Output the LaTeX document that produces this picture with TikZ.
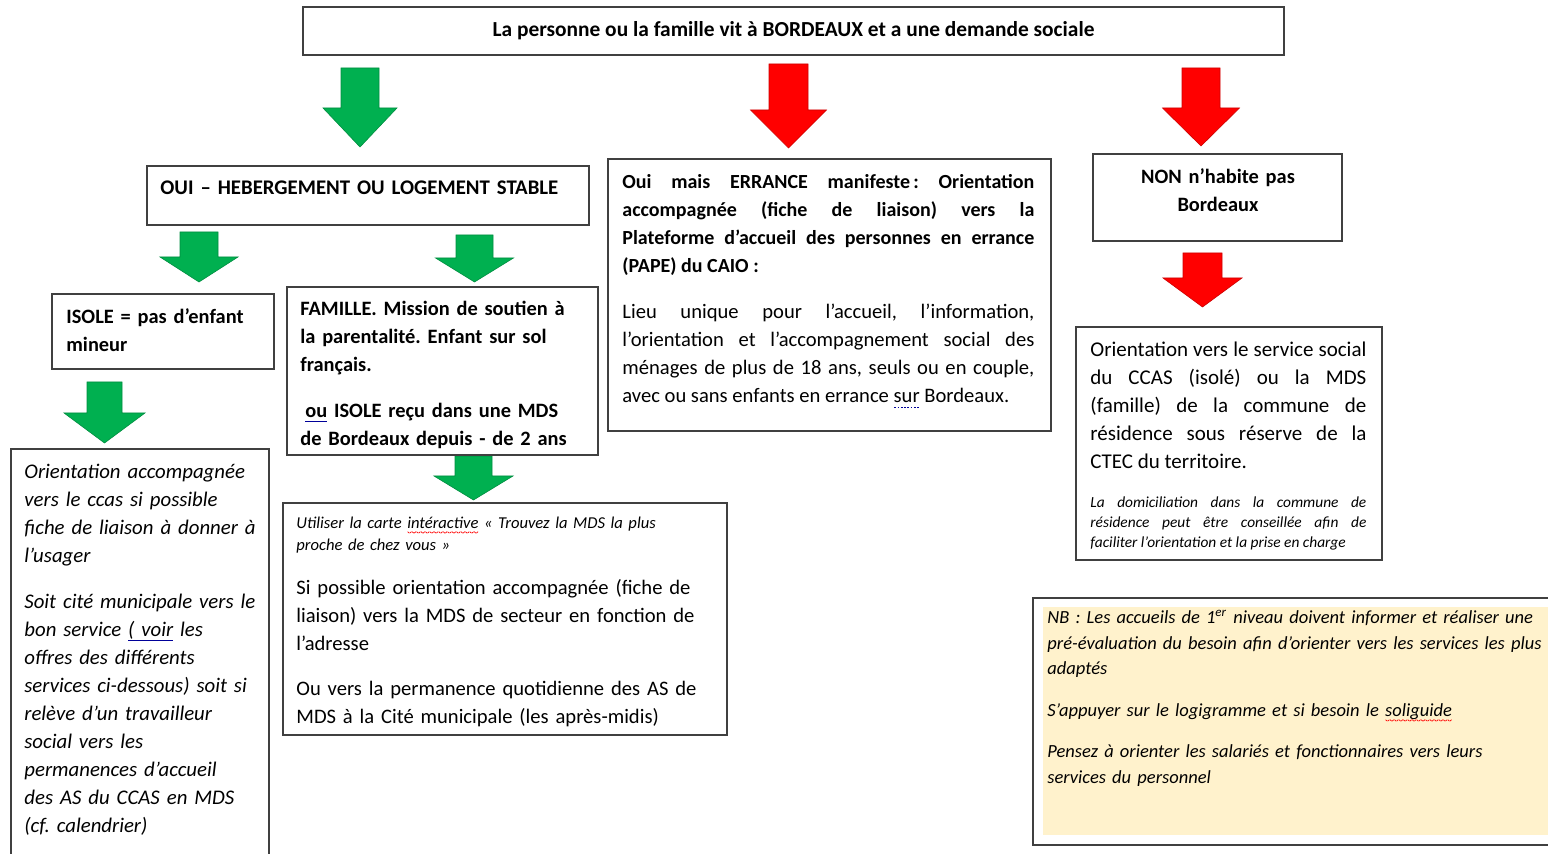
\documentclass[tikz,border=0pt]{standalone}
\usepackage{fontspec}
\setmainfont{Carlito}
\usetikzlibrary{fit}
\frenchspacing

\definecolor{okgreen}{HTML}{00B050}
\definecolor{nbyellow}{HTML}{FFF2CC}

\newsavebox\ulbox
\newcommand{\fs}[2]{\fontsize{#1}{#2}\selectfont}
\newcommand{\zigzag}{\hbox{\raisebox{0.7pt}{\rotatebox{-40}{\rule{1.1pt}{0.35pt}}}\rotatebox{40}{\rule{1.1pt}{0.35pt}}}}
\newcommand{\blueul}[1]{\sbox\ulbox{#1}\rlap{\textcolor{blue!60!black}{\rule[-0.45ex]{\wd\ulbox}{0.5pt}}}\usebox\ulbox}
\newcommand{\redwave}[1]{\sbox\ulbox{#1}\rlap{\textcolor{red}{\raisebox{-2.2pt}{\hbox to \wd\ulbox{\xleaders\zigzag\hfill}}}}\usebox\ulbox}
\newcommand{\dotul}[1]{\sbox\ulbox{#1}\rlap{\textcolor{blue!60!black}{\raisebox{-0.45ex}{\hbox to \wd\ulbox{\xleaders\hbox to 1.6pt{\hss\rule{0.8pt}{0.4pt}\hss}\hfill}}}}\usebox\ulbox}

\begin{document}
\begin{tikzpicture}[x=0.5pt, y=-0.5pt,
		box/.style={draw=black!75, line width=0.75pt, inner sep=0pt},
		txt/.style={anchor=base west, inner sep=0pt, align=left}]
	\useasboundingbox (0,0) rectangle (1548,854);
	
	\foreach \xc/\sw/\hw/\yt/\yb/\yp/\col in {360/19/37/68/108/147/okgreen, 788.5/19.5/38/64/110/148/red, 1201/19/38.5/68/108/146/red, 199/19/39/232/257/282/okgreen, 474.5/18.5/39/235/258/282/okgreen, 104.5/17.5/40.5/382/413/443/okgreen, 473.5/18.5/39.5/456/476/500/okgreen, 1202.5/19.5/39.5/253/278/307/red}
		\filldraw[fill=\col, draw=\col!80!black, line width=0.3pt] (\xc-\sw,\yt) -- (\xc+\sw,\yt) -- (\xc+\sw,\yb) -- (\xc+\hw,\yb) -- (\xc,\yp) -- (\xc-\hw,\yb) -- (\xc-\sw,\yb) -- cycle;
	
	\node[box, fit={(303,7) (1284,55)}] (demande) {};
	\node[font=\bfseries\fs{10.7}{12}] (demandetxt) at (demande.center) {La personne ou la famille vit à BORDEAUX et a une demande sociale};
	
	\node[box, fit={(147,166) (589,225)}] (stable) {};
	\node[txt, text width=215pt, font=\bfseries\fs{10.4}{14}] (stabletxt) at (160,195) {OUI – HEBERGEMENT OU LOGEMENT STABLE};
	
	\node[box, fit={(52,294) (274,369)}] (isole) {};
	\node[txt, text width=100pt, font=\bfseries\fs{10.2}{14}] (isoletxt) at (66,324) {ISOLE = pas d’enfant\\ mineur};
	
	\node[box, fit={(11,449) (269,900)}] (ccas) {};
	\node[txt, text width=120pt, font=\itshape\fs{10.4}{14}] (ccastxt) at (24,479) {Orientation accompagnée\\ vers le ccas si possible\\ fiche de liaison à donner à\\ l’usager};
	\node[txt, text width=120pt, font=\itshape\fs{10.4}{14}] (citetxt) at (24,609) {Soit cité municipale vers le\\ bon service \blueul{( voir} les\\ offres des différents\\ services ci-dessous) soit si\\ relève d’un travailleur\\ social vers les\\ permanences d’accueil\\ des AS du CCAS en MDS\\ (cf. calendrier)};
	
	\node[box, fit={(287,287) (598,455)}] (famille) {};
	\node[txt, text width=150pt, font=\bfseries\fs{10.2}{14}] (familletxt) at (300,316) {FAMILLE. Mission de soutien à\\ la parentalité. Enfant sur sol\\ français.};
	\node[txt, text width=150pt, font=\bfseries\fs{10.2}{14}] (mdstxt) at (300,418) {\hspace*{2.5pt}\blueul{ou} ISOLE reçu dans une MDS\\ de Bordeaux depuis - de 2 ans};
	
	\node[box, fit={(283,503) (727,735)}] (carte) {};
	\node[txt, text width=210pt, font=\itshape\fs{8.3}{11}] (cartetxt) at (296,529) {Utiliser la carte \redwave{intéractive} «~Trouvez la MDS la plus\\ proche de chez vous~»};
	\node[txt, text width=210pt, font=\fs{10.3}{14}] (secteurtxt) at (296,595) {Si possible orientation accompagnée (fiche de\\ liaison) vers la MDS de secteur en fonction de\\ l’adresse};
	\node[txt, text width=210pt, font=\fs{10.3}{14}] (permtxt) at (296,696) {Ou vers la permanence quotidienne des AS de\\ MDS à la Cité municipale (les après-midis)};
	
	\node[box, fit={(608,159) (1051,431)}] (errance) {};
	\node[txt, text width=206pt, align=justify, font=\bfseries\fs{10}{14}] (errancetxt) at (622,189) {Oui mais ERRANCE manifeste\,: Orientation\linebreak accompagnée (fiche de liaison) vers la\linebreak Plateforme d’accueil des personnes en errance\linebreak (PAPE) du CAIO :};
	\node[txt, text width=206pt, align=justify, font=\fs{10.3}{14}] (lieutxt) at (622,319) {Lieu unique pour l’accueil, l’information,\linebreak l’orientation et l’accompagnement social des\linebreak ménages de plus de 18 ans, seuls ou en couple,\linebreak avec ou sans enfants en errance \dotul{sur} Bordeaux.};
	
	\node[box, fit={(1093,154) (1342,241)}] (non) {};
	\node[anchor=base, inner sep=0pt, text width=120pt, align=center, font=\bfseries\fs{10.2}{14}] (nontxt) at (1218,184) {NON n’habite pas\\ Bordeaux};
	
	\node[box, fit={(1076,327) (1382,560)}] (commune) {};
	\node[txt, text width=138pt, align=justify, font=\fs{10.5}{14}] (communetxt) at (1090,357) {Orientation vers le service social\linebreak du CCAS (isolé) ou la MDS\linebreak (famille) de la commune de\linebreak résidence sous réserve de la\linebreak CTEC du territoire.};
	\node[txt, text width=138pt, align=justify, font=\itshape\fs{7.7}{10}] (domitxt) at (1090,508) {La domiciliation dans la commune de\linebreak résidence peut être conseillée afin de\linebreak faciliter l’orientation et la prise en charge};
	
	\node[box, fit={(1033,598) (1570,845)}] (nb) {};
	\fill[nbyellow] (1043,607) rectangle (1570,835);
	\node[txt, text width=300pt, font=\itshape\fs{9.25}{12.7}] (nbtxt) at (1047,624) {NB : Les accueils de 1\textsuperscript{er} niveau doivent informer et réaliser une\\ pré-évaluation du besoin afin d’orienter vers les services les plus\\ adaptés};
	\node[txt, text width=300pt, font=\itshape\fs{9.25}{12.7}] (appuitxt) at (1047,717) {S’appuyer sur le logigramme et si besoin le \redwave{soliguide}};
	\node[txt, text width=300pt, font=\itshape\fs{9.25}{12.7}] (salariestxt) at (1047,758) {Pensez à orienter les salariés et fonctionnaires vers leurs\\ services du personnel};
\end{tikzpicture}
\end{document}
